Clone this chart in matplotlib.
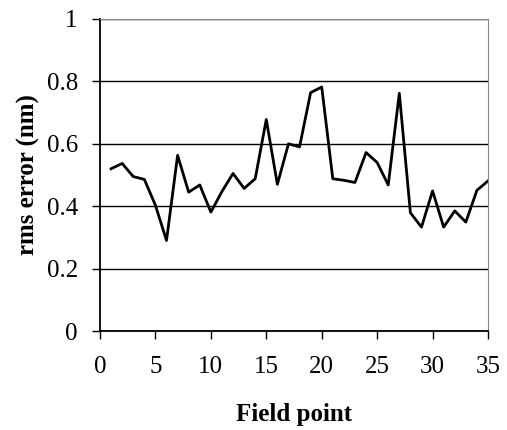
import matplotlib
matplotlib.use('Agg')
import matplotlib.pyplot as plt

field_point = list(range(1, 36))
rms_error = [0.52, 0.537, 0.495, 0.486, 0.403, 0.29, 0.563, 0.445, 0.468, 0.381,
             0.447, 0.505, 0.457, 0.488, 0.678, 0.470, 0.60, 0.59, 0.764, 0.782,
             0.488, 0.483, 0.476, 0.572, 0.54, 0.468, 0.762, 0.379, 0.333, 0.449,
             0.333, 0.385, 0.349, 0.451, 0.481]
x_ticks = [0, 5, 10, 15, 20, 25, 30, 35]
y_ticks = [0, 0.2, 0.4, 0.6, 0.8, 1]
y_labels = ['0', '0.2', '0.4', '0.6', '0.8', '1']

plt.rcParams['font.family'] = ['Liberation Serif', 'DejaVu Serif']

fig = plt.figure(figsize=(5.07, 4.30), dpi=100)
ax = fig.add_axes([100 / 507, 1 - 331 / 430, 388 / 507, 312 / 430])

ax.plot(field_point, rms_error, color='black', linewidth=2)

ax.set_xlim(0, 35)
ax.set_ylim(0, 1)
ax.set_xticks(x_ticks)
ax.set_yticks(y_ticks)
ax.set_yticklabels(y_labels)
ax.tick_params(labelsize=18, length=6, width=1, color='black', pad=12)
ax.tick_params(axis='y', pad=10)
ax.yaxis.grid(True, color='black', linewidth=1)
ax.set_axisbelow(True)

for side in ['top', 'right']:
    ax.spines[side].set_color('#888888')
    ax.spines[side].set_linestyle((0, (1, 1)))
for side in ['left', 'bottom']:
    ax.spines[side].set_linewidth(1.3)

ax.set_xlabel('Field point', fontsize=18, fontweight='bold', labelpad=18)
ax.set_ylabel('rms error (nm)', fontsize=18, fontweight='bold', labelpad=5)

fig.savefig('out.png', dpi=100)
